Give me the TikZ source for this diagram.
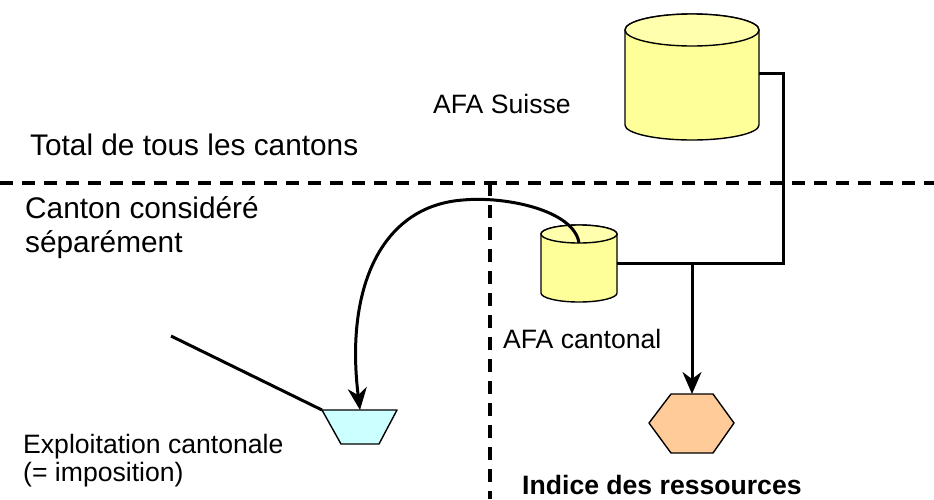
\documentclass[tikz,border=0pt]{standalone}
\usepackage{fontspec}
\setmainfont{Liberation Sans}
\usetikzlibrary{arrows.meta}
\definecolor{cylyellow}{RGB}{255,255,153}
\definecolor{trapcyan}{RGB}{204,255,255}
\definecolor{hexorange}{RGB}{255,204,153}
\begin{document}
\begin{tikzpicture}[x=1pt,y=-1pt,
  shapeline/.style={draw=black, line width=1.4pt, line join=round},
  conn/.style={line width=3pt},
  sep/.style={line width=3.5pt, dash pattern=on 13pt off 9pt},
  biglabel/.style={font=\fontsize{29.8}{34}\selectfont, anchor=base west, inner sep=0pt},
  lbl/.style={font=\fontsize{26.6}{30}\selectfont, anchor=base west, inner sep=0pt},
  boldlbl/.style={font=\fontsize{26.6}{30}\selectfont\bfseries, anchor=base west, inner sep=0pt},
  tip/.style={-{Stealth[length=22pt,width=19pt,inset=7pt]}}]
\useasboundingbox (0,0) rectangle (934,499);

% separators
\coordinate (hl) at (0,183);
\coordinate (hr) at (934,183);
\coordinate (vt) at (490,183);
\coordinate (vb) at (490,499);
\draw[sep] (hl) -- (hr);
\draw[sep] (vt) -- (vb);

% big cylinder (AFA Suisse)
\path[shapeline, fill=cylyellow] (625,30) -- (625,125)
  arc[start angle=180, end angle=0, x radius=67, y radius=15] -- (759,30)
  arc[start angle=0, end angle=-180, x radius=67, y radius=16] -- cycle;
\path[shapeline, fill=cylyellow!80!white] (692,30) ellipse [x radius=67, y radius=16];

% small cylinder (AFA cantonal)
\path[shapeline, fill=cylyellow] (541,234) -- (541,293)
  arc[start angle=180, end angle=0, x radius=38, y radius=9] -- (617,234)
  arc[start angle=0, end angle=-180, x radius=38, y radius=9] -- cycle;
\path[shapeline, fill=cylyellow!80!white] (579,234) ellipse [x radius=38, y radius=9];

% trapezoid
\coordinate (trap-tl) at (322,410);
\coordinate (trap-tr) at (397,410);
\coordinate (trap-br) at (379,444);
\coordinate (trap-bl) at (341,444);
\coordinate (trap-top) at (360,410);
\path[shapeline, fill=trapcyan] (trap-tl) -- (trap-tr) -- (trap-br) -- (trap-bl) -- cycle;

% hexagon
\coordinate (hex-top) at (692,394);
\path[shapeline, fill=hexorange] (649,423) -- (671,394) -- (713,394) -- (734,423) -- (713,453) -- (671,453) -- cycle;

% connectors
\coordinate (suisse-r) at (759,73);
\coordinate (bend) at (783,263);
\coordinate (cant-r) at (617,263);
\coordinate (junc) at (692,263);
\coordinate (cant-top) at (579,243);
\coordinate (peak) at (463,200);
\coordinate (free) at (171,336);

\draw[conn] (suisse-r) -| (bend) -- (cant-r);
\draw[conn, tip] (junc) -- (hex-top);
\draw[conn, tip] (cant-top) .. controls (574,210) and (505,196) .. (peak)
  .. controls (380,206) and (345,290) .. (trap-top);
\draw[conn] (free) -- (trap-tl);

% labels
\node[lbl] (afasuisse) at (433,113) {AFA Suisse};
\node[biglabel] (total) at (30,155) {Total de tous les cantons};
\node[biglabel] (canton1) at (25,218) {Canton considéré};
\node[biglabel] (canton2) at (25,252) {séparément};
\node[lbl] (afacant) at (503,348) {AFA cantonal};
\node[lbl] (expl1) at (23,453) {Exploitation cantonale};
\node[lbl] (expl2) at (23,481) {(= imposition)};
\node[boldlbl] (indice) at (522,494) {Indice des ressources};
\end{tikzpicture}
\end{document}
